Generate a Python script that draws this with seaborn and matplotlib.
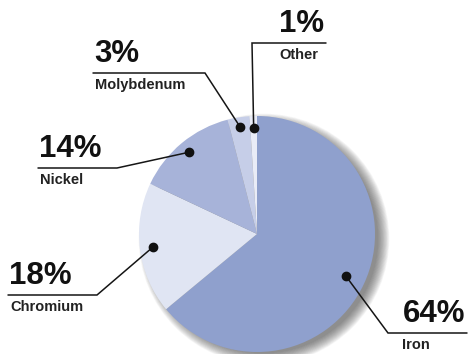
import numpy as np
import matplotlib
matplotlib.use("Agg")
import matplotlib.pyplot as plt
from matplotlib.patches import Circle
import seaborn as sns

# Composition of stainless steel (percent by mass)
materials = ["Iron", "Chromium", "Nickel", "Molybdenum", "Other"]
shares = [64, 18, 14, 3, 1]
slice_colors = ["#8fa0cd", "#e0e5f3", "#a7b3d9", "#c6cee8", "#e9ecf7"]

sns.set_style("white")
plt.rcParams["font.family"] = ["Liberation Sans", "DejaVu Sans"]

W, H = 471, 354
fig = plt.figure(figsize=(W / 100, H / 100), dpi=100)
ax = fig.add_axes([0, 0, 1, 1])


def Y(y):
    """Convert a top-down pixel row into the axes' upward y."""
    return H - y


cx, cy, R = 257, 234, 118

# soft drop shadow to the lower right of the pie
for k in range(16):
    ax.add_patch(Circle((cx + 7, Y(cy + 5)), R - 4 + k * 0.75,
                        color="#404040", alpha=0.05, lw=0, zorder=1))

wedges, _ = ax.pie(shares, colors=slice_colors, startangle=90,
                   counterclock=False, center=(cx, Y(cy)), radius=R,
                   wedgeprops=dict(linewidth=0, zorder=2), frame=True)
ax.set_xlim(0, W)
ax.set_ylim(0, H)
ax.set_aspect("equal")
ax.axis("off")

# label layout: radius fraction of the dot, elbow point, underline span,
# side where the text sits
layout = {
    "Iron":       dict(rf=0.83, elbow=(388, 333), line=(388, 467), align="right"),
    "Chromium":   dict(rf=0.89, elbow=(97, 295), line=(8, 97), align="left"),
    "Nickel":     dict(rf=0.90, elbow=(117, 168), line=(38, 117), align="left"),
    "Molybdenum": dict(rf=0.92, elbow=(205, 73), line=(93, 205), align="left"),
    "Other":      dict(rf=0.90, elbow=(252, 43), line=(252, 326), align="right"),
}

for w, name, share in zip(wedges, materials, shares):
    mid = np.deg2rad((w.theta1 + w.theta2) / 2)
    L = layout[name]
    dx = cx + L["rf"] * R * np.cos(mid)
    dy = Y(cy) + L["rf"] * R * np.sin(mid)
    ex, ey = L["elbow"]
    x0, x1 = L["line"]
    far = x0 if ex == x1 else x1
    ax.plot([dx, ex, far], [dy, Y(ey), Y(ey)], color="#151515", lw=1.1,
            solid_joinstyle="miter", zorder=4)
    ax.plot([dx], [dy], "o", color="#111111", ms=6, zorder=5)
    if L["align"] == "left":
        tx, ha = x0 + 1, "left"
    else:
        tx, ha = x1 - 2, "right"
    ax.text(tx, Y(ey) + 4, f"{share}%", ha=ha, va="bottom", fontsize=22.5,
            fontweight="bold", color="#111111", zorder=6)
    if name == "Other":
        sx, sha = (x0 + x1) / 2 + 10, "center"
    elif name == "Iron":
        sx, sha = x0 + 14, "left"
    else:
        sx, sha = tx + 1, ha
    ax.text(sx, Y(ey) - 5, name, ha=sha, va="top", fontsize=10.5,
            fontweight="bold", color="#222222", zorder=6)

fig.savefig("out.png", dpi=100, facecolor="white")
